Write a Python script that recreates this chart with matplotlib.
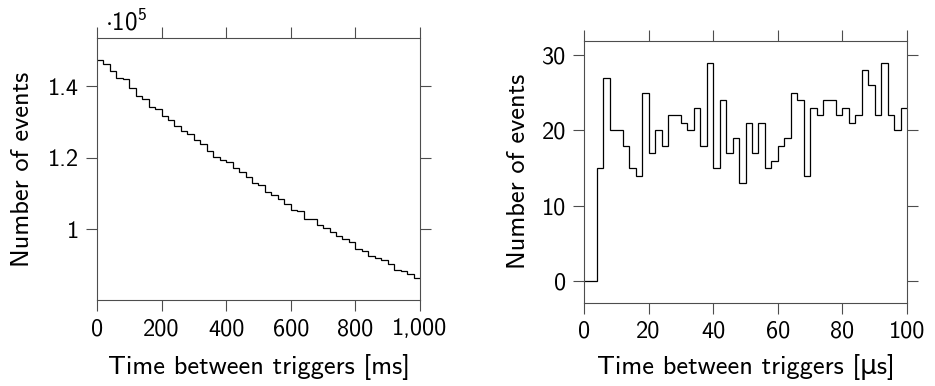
import numpy as np
import matplotlib
matplotlib.use('Agg')
import matplotlib.pyplot as plt
from matplotlib.ticker import FuncFormatter, MultipleLocator

plt.rcParams['font.family'] = ['cmss10', 'DejaVu Sans']
plt.rcParams['mathtext.fontset'] = 'custom'
plt.rcParams['mathtext.rm'] = 'cmss10'
plt.rcParams['font.size'] = 17.5
plt.rcParams['axes.labelsize'] = 19
plt.rcParams['axes.unicode_minus'] = False

# Left: time between triggers, 20 ms bins, counts
ms_bin_width = 20
ms_counts = [
    147360, 146150, 144200, 142240, 141960, 139500, 137300, 136550, 134200, 133570,
    131700, 130500, 128800, 127400, 126770, 125100, 123970, 121900, 120330, 119300,
    118830, 117150, 115950, 114550, 112870, 112400, 110550, 109510, 108400, 107200,
    105320, 105040, 103000, 102800, 101300, 100500, 99160, 98230, 97300, 96470,
    94400, 93940, 92640, 92080, 91330, 90300, 88730, 88340, 87410, 86380,
]

# Right: time between triggers, 2 us bins, counts
us_bin_width = 2
us_counts = [
    0, 0, 15, 27, 20, 20, 18, 15, 14, 25,
    17, 20, 18, 22, 22, 21, 20, 23, 18, 29,
    15, 24, 17, 19, 13, 21, 17, 21, 15, 16,
    18, 19, 25, 24, 14, 23, 22, 24, 24, 22,
    23, 21, 22, 28, 26, 22, 29, 22, 20, 23,
]

SPINE = '0.3'


def style_axis(ax):
    for sp in ax.spines.values():
        sp.set_color(SPINE)
        sp.set_linewidth(0.8)
    ax.tick_params(direction='out', length=8, width=0.8, color=SPINE,
                   top=True, right=True, labeltop=False, labelright=False,
                   pad=5)


fig = plt.figure(figsize=(9.35, 3.86), dpi=100)

# left panel
ax1 = fig.add_axes([0.1037, 0.2228, 0.3455, 0.6788])
ms_edges = np.arange(len(ms_counts) + 1) * ms_bin_width
ax1.stairs(ms_counts, ms_edges, color='black', linewidth=0.9, baseline=None)
ax1.set_xlim(0, 1000)
lo, hi = min(ms_counts), max(ms_counts)
ax1.set_ylim(lo - 0.1 * (hi - lo), hi + 0.1 * (hi - lo))
ax1.xaxis.set_major_locator(MultipleLocator(200))
ax1.xaxis.set_major_formatter(FuncFormatter(lambda v, p: f'{v:,.0f}'))
ax1.yaxis.set_major_locator(MultipleLocator(20000))
ax1.yaxis.set_major_formatter(FuncFormatter(lambda v, p: f'{v / 1e5:g}'))
ax1.set_xlabel('Time between triggers [ms]', labelpad=10)
ax1.set_ylabel('Number of events', labelpad=10)
style_axis(ax1)
ax1.text(0.025, 1.03, r'$\cdot10^{5}$', transform=ax1.transAxes,
         ha='left', va='baseline', fontsize=18)

# right panel
ax2 = fig.add_axes([0.6246, 0.2158, 0.3455, 0.678])
us_edges = np.arange(len(us_counts) + 1) * us_bin_width
ax2.stairs(us_counts, us_edges, color='black', linewidth=0.9, baseline=None)
ax2.set_xlim(0, 100)
lo, hi = min(us_counts), max(us_counts)
ax2.set_ylim(lo - 0.1 * (hi - lo), hi + 0.1 * (hi - lo))
ax2.xaxis.set_major_locator(MultipleLocator(20))
ax2.yaxis.set_major_locator(MultipleLocator(10))
ax2.set_xlabel('Time between triggers [\u03bcs]', labelpad=8)
ax2.set_ylabel('Number of events', labelpad=8)
style_axis(ax2)

fig.savefig('out.png', dpi=100)
